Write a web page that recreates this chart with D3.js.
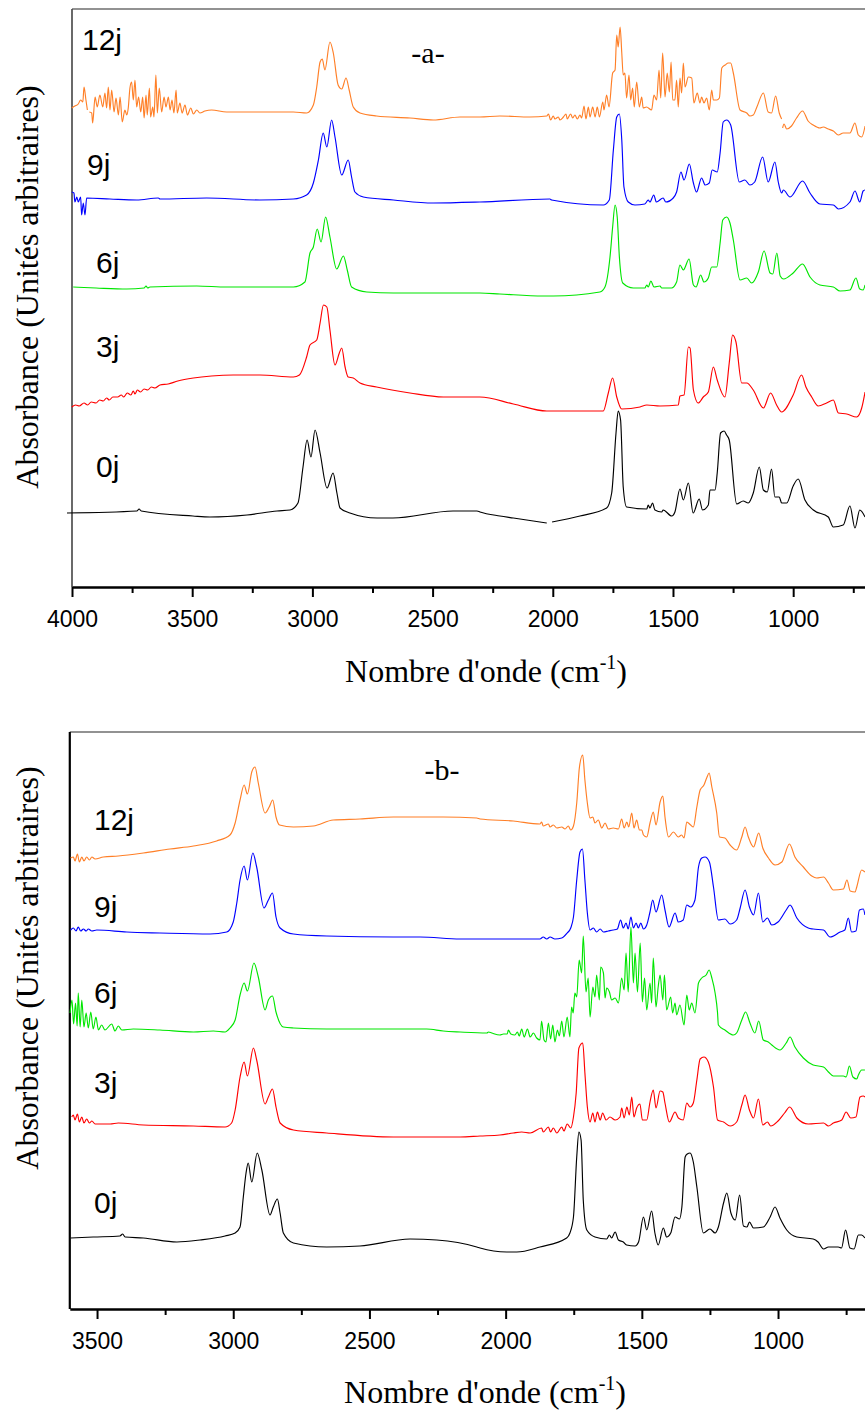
<!DOCTYPE html>
<html><head><meta charset="utf-8">
<script src="https://cdn.jsdelivr.net/npm/d3@7/dist/d3.min.js"></script>
<style>body{margin:0;background:#fff}svg{display:block}</style>
</head><body>
<svg id="chart" width="865" height="1410"></svg>
<script>
// ---------- data ----------
const seriesNames = ["0j","3j","6j","9j","12j"];
const seriesColors = ["#000000","#ff0000","#00e600","#0000ff","#ff7f27"];
const majorTicksA = [4000,3500,3000,2500,2000,1500,1000];
const minorTicksA = [3750,3250,2750,2250,1750,1250,750];
const majorTicksB = [3500,3000,2500,2000,1500,1000];
const minorTicksB = [3250,2750,2250,1750,1250,750];
const panelTags = ["-a-","-b-"];

// panel a : [wavenumber cm-1, absorbance (a.u., stacked)]
const a0j = [[4021,0.74],[3730,0.76],[3721,0.78],[3712,0.76],[3497,0.71],[3426,0.70],[3272,0.72],[3147,0.76],[3093,0.77],[3060,0.84],[3039,1.20],[3022,1.47],[3006,1.30],[2989,1.57],[2968,1.34],[2939,0.99],[2914,1.14],[2898,0.94],[2885,0.79],[2844,0.74],[2731,0.69],[2665,0.69],[2415,0.76],[2315,0.76],[2303,0.75],[2220,0.71],[2164,0.69],[2025,0.64],[2015,null],[2003,0.65],[1887,0.71],[1776,0.79],[1755,0.94],[1737,1.54],[1728,1.76],[1718,1.67],[1707,1.00],[1693,0.80],[1609,0.78],[1603,0.82],[1596,0.79],[1585,0.84],[1575,0.77],[1547,0.75],[1541,0.77],[1505,0.71],[1492,0.75],[1471,0.98],[1457,0.87],[1436,1.04],[1416,0.74],[1391,0.88],[1377,0.77],[1353,0.82],[1346,0.97],[1325,0.97],[1316,1.14],[1302,1.54],[1287,1.56],[1277,1.52],[1266,1.47],[1235,0.83],[1208,0.86],[1187,0.84],[1166,0.94],[1141,1.20],[1124,0.97],[1108,0.95],[1090,1.18],[1076,0.90],[1058,0.90],[1048,0.84],[1027,0.84],[1000,1.01],[979,1.08],[951,0.87],[916,0.77],[854,0.70],[833,0.60],[792,0.62],[764,0.81],[743,0.59],[723,0.77],[701,0.70]];
const a3j = [[4001,1.80],[3985,1.82],[3970,1.81],[3950,1.84],[3935,1.82],[3920,1.85],[3900,1.84],[3885,1.87],[3870,1.86],[3856,1.89],[3845,1.87],[3830,1.90],[3810,1.90],[3795,1.92],[3785,1.90],[3770,1.94],[3755,1.92],[3745,1.96],[3738,1.93],[3728,1.97],[3715,1.95],[3700,1.98],[3685,1.97],[3670,2.00],[3655,1.99],[3634,2.02],[3600,2.03],[3560,2.06],[3495,2.09],[3420,2.11],[3329,2.12],[3218,2.12],[3079,2.10],[3054,2.12],[3024,2.30],[3010,2.42],[2982,2.47],[2968,2.64],[2954,2.82],[2940,2.80],[2927,2.57],[2906,2.22],[2888,2.34],[2878,2.39],[2864,2.20],[2851,2.10],[2830,2.09],[2802,2.04],[2733,2.00],[2594,1.94],[2455,1.90],[2317,1.90],[2303,1.90],[2164,1.83],[2025,1.76],[1790,1.76],[1769,1.94],[1751,2.09],[1734,1.90],[1713,1.78],[1637,1.80],[1609,1.82],[1554,1.81],[1478,1.82],[1471,1.91],[1454,1.92],[1436,2.40],[1429,2.39],[1415,1.97],[1395,1.84],[1374,1.90],[1353,1.95],[1332,2.20],[1316,2.07],[1284,1.90],[1266,2.24],[1252,2.52],[1238,2.45],[1214,2.04],[1193,2.04],[1166,1.97],[1124,1.79],[1094,1.94],[1069,1.82],[1048,1.75],[1000,1.92],[965,2.12],[947,2.00],[923,1.90],[896,1.81],[861,1.84],[833,1.87],[812,1.74],[777,1.73],[736,1.70],[715,1.79],[701,1.95]];
const a6j = [[3995,3.00],[3900,2.99],[3772,2.98],[3700,2.99],[3692,3.01],[3685,2.99],[3676,3.00],[3481,3.01],[3357,3.00],[3079,3.00],[3031,3.05],[3010,3.34],[2996,3.40],[2980,3.58],[2964,3.45],[2945,3.70],[2927,3.50],[2899,3.18],[2871,3.31],[2855,3.17],[2837,3.00],[2774,2.95],[2663,2.94],[2386,2.94],[2303,2.94],[2220,2.93],[2040,2.91],[1998,2.91],[1804,2.95],[1783,3.00],[1762,3.30],[1751,3.60],[1741,3.82],[1732,3.70],[1723,3.30],[1709,3.04],[1665,2.99],[1617,2.99],[1609,3.02],[1603,3.00],[1592,3.06],[1579,3.00],[1554,3.01],[1547,2.99],[1506,2.99],[1485,3.05],[1471,3.22],[1457,3.17],[1433,3.28],[1415,3.02],[1404,3.00],[1385,3.12],[1371,3.05],[1353,3.09],[1339,3.20],[1318,3.20],[1304,3.44],[1293,3.67],[1277,3.70],[1263,3.64],[1249,3.47],[1221,3.07],[1193,3.09],[1173,3.04],[1145,3.15],[1121,3.36],[1096,3.14],[1085,3.13],[1068,3.34],[1054,3.11],[1040,3.08],[1000,3.14],[961,3.23],[930,3.10],[889,3.02],[833,3.00],[805,2.96],[764,2.97],[739,3.09],[723,2.98],[709,2.97],[701,3.02]];
const a9j = [[4001,3.95],[3992,3.94],[3988,3.85],[3980,3.90],[3974,3.85],[3964,3.90],[3960,3.72],[3953,3.84],[3946,3.72],[3939,3.89],[3842,3.88],[3731,3.87],[3641,3.89],[3634,3.88],[3440,3.89],[3218,3.87],[3079,3.88],[3024,3.92],[2996,4.04],[2975,4.27],[2955,4.54],[2940,4.40],[2920,4.67],[2906,4.50],[2878,4.12],[2851,4.27],[2837,4.10],[2823,3.95],[2788,3.90],[2663,3.87],[2497,3.84],[2303,3.85],[2012,3.88],[2005,3.87],[1790,3.82],[1765,3.87],[1748,4.37],[1734,4.70],[1723,4.73],[1713,4.47],[1704,4.00],[1686,3.85],[1658,3.82],[1617,3.83],[1603,3.87],[1596,3.85],[1580,3.92],[1569,3.85],[1541,3.89],[1530,3.85],[1499,3.89],[1485,3.95],[1467,4.15],[1454,4.07],[1432,4.23],[1416,4.05],[1402,3.95],[1381,4.09],[1366,4.02],[1349,4.04],[1337,4.17],[1316,4.15],[1304,4.34],[1291,4.65],[1277,4.67],[1260,4.62],[1224,4.05],[1201,4.07],[1180,4.02],[1160,4.05],[1127,4.30],[1104,4.05],[1076,4.25],[1062,4.05],[1048,3.94],[1041,3.97],[1013,3.90],[961,4.06],[930,3.94],[889,3.83],[833,3.82],[812,3.78],[764,3.85],[743,3.96],[723,3.85],[709,3.96],[701,3.97]];
const a12j = [[4001,4.79],[3988,4.81],[3974,4.83],[3964,4.87],[3955,4.85],[3950,5.00],[3942,4.87],[3936,4.77],[3932,null],[3928,4.75],[3918,4.74],[3914,4.64],[3904,4.90],[3895,4.80],[3884,4.92],[3872,4.80],[3863,4.94],[3856,4.79],[3849,5.00],[3842,4.77],[3835,4.97],[3825,4.75],[3817,4.89],[3807,4.72],[3800,4.90],[3791,4.65],[3780,4.77],[3772,4.72],[3766,4.79],[3759,4.99],[3752,5.05],[3745,4.87],[3738,5.07],[3731,4.80],[3723,4.90],[3714,4.75],[3706,4.90],[3700,4.69],[3692,4.92],[3687,4.72],[3678,4.99],[3673,4.70],[3664,4.80],[3659,4.70],[3651,5.12],[3645,4.74],[3637,4.99],[3627,4.75],[3617,4.90],[3609,4.80],[3599,4.90],[3592,4.77],[3584,4.87],[3576,4.74],[3567,4.97],[3562,4.74],[3551,4.84],[3542,4.74],[3530,4.82],[3520,4.72],[3506,4.79],[3495,4.73],[3481,4.77],[3468,4.74],[3447,4.76],[3419,4.77],[3357,4.75],[3218,4.75],[3079,4.75],[3024,4.74],[2996,4.82],[2982,5.00],[2968,5.25],[2959,5.28],[2948,5.17],[2927,5.45],[2913,5.34],[2893,5.02],[2878,4.98],[2860,5.09],[2847,4.97],[2830,4.80],[2802,4.74],[2733,4.71],[2594,4.69],[2497,4.67],[2386,4.70],[2303,4.70],[2220,4.71],[2095,4.70],[2025,4.71],[2018,4.73],[2009,4.67],[1998,4.71],[1991,4.68],[1977,4.70],[1970,4.67],[1956,4.70],[1945,4.73],[1940,4.68],[1926,4.73],[1917,4.69],[1908,4.72],[1898,4.68],[1887,4.72],[1880,4.69],[1870,4.81],[1862,4.68],[1852,4.80],[1845,4.70],[1834,4.80],[1824,4.70],[1815,4.80],[1806,4.70],[1792,4.85],[1787,4.77],[1776,4.92],[1766,4.80],[1751,5.14],[1741,5.17],[1734,5.52],[1728,5.40],[1720,5.60],[1713,5.34],[1707,5.12],[1700,5.14],[1693,4.89],[1683,5.12],[1676,4.87],[1668,4.99],[1661,4.80],[1651,5.05],[1640,4.80],[1630,4.90],[1624,4.79],[1610,4.80],[1589,4.77],[1579,4.92],[1568,4.87],[1558,5.17],[1551,4.89],[1543,5.34],[1533,4.90],[1524,5.14],[1515,4.95],[1508,5.25],[1501,4.87],[1492,4.87],[1485,5.07],[1478,4.80],[1471,5.09],[1464,4.94],[1457,5.24],[1450,5.00],[1436,5.10],[1422,5.09],[1413,4.84],[1399,4.94],[1388,4.84],[1381,4.90],[1371,4.84],[1360,4.89],[1349,4.77],[1339,4.97],[1332,4.87],[1318,4.87],[1307,4.89],[1297,5.19],[1283,5.22],[1270,5.24],[1260,5.24],[1249,5.14],[1221,4.77],[1193,4.74],[1180,4.71],[1166,4.72],[1151,4.80],[1124,4.94],[1104,4.75],[1090,4.74],[1073,4.91],[1058,4.74],[1048,4.68],[1046,null],[1044,4.59],[1038,4.63],[1027,4.58],[1007,4.61],[986,4.69],[961,4.76],[938,4.66],[917,4.62],[889,4.59],[875,4.60],[854,4.58],[833,4.56],[812,4.52],[792,4.54],[764,4.54],[743,4.64],[729,4.52],[715,4.50],[701,4.61]];

// panel b
const b0j = [[3597,0.71],[3514,0.72],[3416,0.73],[3406,0.75],[3397,0.72],[3330,0.71],[3207,0.67],[3122,0.69],[3030,0.73],[2993,0.76],[2975,0.82],[2963,1.12],[2953,1.36],[2945,1.46],[2932,1.27],[2912,1.56],[2895,1.39],[2865,0.94],[2853,1.02],[2838,1.10],[2828,0.96],[2816,0.76],[2779,0.66],[2657,0.62],[2535,0.63],[2351,0.70],[2253,0.69],[2106,0.62],[2094,0.61],[1996,0.57],[1959,0.57],[1874,0.62],[1776,0.71],[1764,0.76],[1751,0.92],[1739,1.52],[1731,1.77],[1723,1.69],[1715,1.09],[1702,0.79],[1672,0.72],[1629,0.70],[1619,0.74],[1611,0.71],[1598,0.77],[1586,0.69],[1568,0.67],[1556,0.64],[1525,0.63],[1512,0.67],[1494,0.92],[1482,0.79],[1464,0.98],[1452,0.76],[1440,0.64],[1421,0.81],[1409,0.72],[1394,0.76],[1378,0.92],[1362,0.90],[1353,1.02],[1341,1.52],[1333,1.55],[1323,1.56],[1311,1.47],[1298,1.22],[1274,0.76],[1250,0.80],[1231,0.76],[1219,0.82],[1200,1.06],[1188,1.16],[1173,0.96],[1157,0.89],[1141,1.14],[1127,0.83],[1114,0.82],[1105,0.87],[1090,0.81],[1054,0.82],[1029,0.92],[1011,1.02],[993,0.91],[968,0.79],[931,0.72],[871,0.70],[853,0.67],[833,0.60],[815,0.62],[779,0.62],[767,0.61],[752,0.79],[736,0.61],[721,0.60],[705,0.74],[693,0.74],[681,0.71]];
const b3j = [[3593,1.92],[3587,1.94],[3581,1.89],[3572,1.95],[3565,1.87],[3556,1.92],[3548,1.86],[3538,1.90],[3528,1.86],[3519,1.88],[3507,1.85],[3452,1.85],[3422,1.86],[3330,1.84],[3146,1.83],[3030,1.82],[3006,1.86],[2993,1.99],[2975,2.32],[2960,2.47],[2948,2.33],[2926,2.61],[2914,2.49],[2883,2.05],[2871,2.12],[2856,2.20],[2843,2.02],[2828,1.86],[2779,1.79],[2657,1.76],[2412,1.72],[2167,1.72],[2094,1.73],[2021,1.74],[1972,1.76],[1941,1.77],[1910,1.76],[1868,1.81],[1862,1.77],[1843,1.82],[1835,1.77],[1825,1.81],[1812,1.76],[1794,1.82],[1786,1.78],[1774,1.85],[1761,1.81],[1751,1.92],[1741,2.16],[1731,2.61],[1717,2.66],[1709,2.36],[1700,2.02],[1690,1.87],[1680,1.96],[1672,1.87],[1663,1.97],[1653,1.89],[1644,1.96],[1631,1.89],[1617,1.92],[1598,1.89],[1580,1.92],[1574,2.01],[1565,1.91],[1555,2.02],[1546,1.94],[1537,2.12],[1529,1.92],[1519,2.01],[1507,2.05],[1498,1.89],[1482,1.89],[1470,2.07],[1458,2.19],[1448,2.01],[1433,2.18],[1423,2.17],[1415,2.06],[1399,1.87],[1378,1.97],[1366,1.91],[1348,1.89],[1335,2.06],[1323,2.02],[1311,2.06],[1298,2.29],[1286,2.50],[1272,2.52],[1256,2.47],[1237,2.22],[1222,1.89],[1200,1.87],[1176,1.83],[1152,1.87],[1133,2.04],[1121,2.14],[1105,1.99],[1090,1.91],[1072,2.10],[1056,1.84],[1039,1.87],[1027,1.83],[1000,1.88],[976,1.96],[957,2.02],[931,1.91],[889,1.85],[833,1.86],[815,1.83],[797,1.86],[766,1.89],[750,1.97],[733,1.91],[714,1.92],[699,2.12],[687,2.13],[681,2.12]];
const b6j = [[3599,2.96],[3592,3.09],[3586,2.85],[3579,3.06],[3573,2.83],[3569,3.16],[3562,2.82],[3556,3.09],[3548,2.82],[3540,2.96],[3532,2.81],[3523,2.97],[3514,2.80],[3504,2.92],[3495,2.79],[3483,2.84],[3471,2.79],[3446,2.85],[3434,2.78],[3422,2.83],[3409,2.79],[3367,2.80],[3269,2.79],[3146,2.77],[3073,2.78],[3030,2.77],[3012,2.81],[2993,2.89],[2975,3.14],[2960,3.26],[2948,3.18],[2924,3.46],[2908,3.32],[2883,2.99],[2871,3.09],[2856,3.13],[2843,2.97],[2816,2.82],[2779,2.81],[2657,2.80],[2412,2.80],[2290,2.80],[2229,2.78],[2167,2.77],[2069,2.76],[2063,2.77],[2051,2.76],[2021,2.74],[2008,2.75],[1994,2.75],[1990,2.79],[1981,2.75],[1966,2.74],[1957,2.77],[1950,2.73],[1941,2.80],[1932,2.72],[1920,2.80],[1910,2.72],[1898,2.76],[1886,2.71],[1874,2.69],[1868,2.88],[1859,2.69],[1852,2.67],[1843,2.86],[1835,2.70],[1827,2.84],[1819,2.67],[1810,2.79],[1803,2.73],[1794,2.88],[1786,2.72],[1774,2.92],[1764,2.72],[1758,3.02],[1752,2.96],[1746,3.16],[1739,3.12],[1730,3.49],[1721,3.36],[1715,3.73],[1705,3.17],[1697,3.31],[1690,2.92],[1680,3.22],[1672,3.12],[1666,3.34],[1656,3.09],[1651,3.42],[1641,3.36],[1635,3.11],[1629,3.21],[1619,3.17],[1611,3.09],[1598,3.11],[1586,3.06],[1574,3.31],[1565,3.19],[1558,3.56],[1550,3.17],[1540,3.82],[1531,3.26],[1525,3.56],[1516,3.17],[1506,3.66],[1498,3.07],[1490,3.31],[1482,2.99],[1470,3.26],[1464,3.06],[1458,3.51],[1448,3.02],[1440,3.22],[1433,3.34],[1423,3.09],[1417,3.34],[1409,2.99],[1394,3.12],[1387,2.96],[1378,3.06],[1372,2.94],[1360,3.04],[1345,2.84],[1335,3.14],[1326,2.99],[1317,3.06],[1305,2.96],[1292,3.26],[1280,3.31],[1264,3.34],[1253,3.39],[1243,3.31],[1231,3.16],[1222,2.96],[1219,2.84],[1195,2.79],[1164,2.74],[1152,2.76],[1133,2.89],[1119,2.97],[1103,2.86],[1085,2.76],[1071,2.88],[1054,2.69],[1036,2.67],[1023,2.64],[993,2.59],[970,2.66],[956,2.72],[938,2.62],[907,2.51],[871,2.44],[833,2.42],[815,2.37],[797,2.33],[760,2.33],[750,2.32],[738,2.43],[725,2.32],[711,2.30],[705,2.34],[693,2.39],[681,2.39]];
const b9j = [[3597,3.79],[3587,3.81],[3577,3.78],[3569,3.82],[3560,3.78],[3550,3.80],[3540,3.78],[3532,3.80],[3519,3.78],[3501,3.79],[3391,3.77],[3269,3.76],[3085,3.75],[3024,3.77],[3000,3.87],[2987,4.06],[2975,4.29],[2960,4.43],[2948,4.29],[2928,4.56],[2914,4.42],[2887,4.01],[2871,4.09],[2856,4.16],[2843,3.92],[2828,3.81],[2779,3.75],[2657,3.73],[2412,3.72],[2376,3.72],[2314,3.72],[2167,3.70],[2094,3.70],[1874,3.70],[1862,3.72],[1849,3.70],[1837,3.72],[1819,3.70],[1794,3.71],[1774,3.76],[1761,3.81],[1751,3.92],[1739,4.29],[1727,4.57],[1718,4.60],[1709,4.29],[1700,3.96],[1690,3.79],[1678,3.81],[1666,3.77],[1653,3.80],[1641,3.77],[1623,3.78],[1605,3.79],[1590,3.80],[1578,3.89],[1568,3.81],[1558,3.86],[1550,3.80],[1540,3.92],[1531,3.81],[1521,3.86],[1513,3.81],[1504,3.86],[1494,3.80],[1482,3.84],[1470,3.97],[1460,4.09],[1448,3.97],[1427,4.14],[1415,3.99],[1400,3.82],[1378,3.96],[1366,3.87],[1348,3.89],[1335,4.04],[1321,4.02],[1305,4.09],[1292,4.42],[1280,4.51],[1268,4.52],[1252,4.47],[1237,4.22],[1219,3.89],[1195,3.90],[1176,3.85],[1152,3.89],[1139,4.01],[1121,4.19],[1105,4.02],[1090,3.94],[1072,4.16],[1056,3.87],[1039,3.91],[1023,3.84],[1000,3.87],[970,3.99],[956,4.04],[931,3.91],[889,3.81],[871,3.80],[833,3.79],[809,3.72],[772,3.77],[755,3.79],[742,3.91],[730,3.77],[714,3.78],[701,3.99],[687,4.00],[681,3.94]];
const b12j = [[3597,4.51],[3587,4.52],[3581,4.48],[3572,4.55],[3565,4.47],[3556,4.52],[3548,4.48],[3538,4.52],[3528,4.49],[3519,4.52],[3507,4.50],[3477,4.52],[3422,4.53],[3330,4.56],[3232,4.60],[3146,4.63],[3061,4.68],[3012,4.74],[2993,4.86],[2975,5.09],[2960,5.24],[2948,5.15],[2932,5.37],[2920,5.42],[2908,5.26],[2883,4.96],[2868,5.02],[2855,5.09],[2843,4.92],[2830,4.84],[2779,4.82],[2706,4.83],[2633,4.89],[2535,4.90],[2412,4.92],[2229,4.92],[2106,4.91],[2094,4.90],[1972,4.88],[1874,4.85],[1868,4.87],[1862,4.83],[1843,4.85],[1837,4.82],[1825,4.84],[1812,4.81],[1794,4.82],[1782,4.80],[1770,4.83],[1761,4.79],[1751,4.83],[1739,5.06],[1729,5.42],[1717,5.54],[1709,5.29],[1700,5.06],[1690,4.91],[1680,4.92],[1672,4.86],[1660,4.89],[1647,4.81],[1635,4.86],[1623,4.80],[1605,4.81],[1586,4.80],[1574,4.90],[1565,4.81],[1555,4.87],[1548,4.82],[1537,4.96],[1529,4.81],[1519,4.89],[1509,4.79],[1500,4.79],[1494,4.74],[1482,4.72],[1470,4.86],[1458,4.97],[1448,4.84],[1433,5.07],[1423,5.13],[1415,4.92],[1402,4.72],[1384,4.77],[1366,4.72],[1354,4.74],[1345,4.71],[1335,4.87],[1321,4.84],[1311,4.82],[1298,5.02],[1286,5.19],[1272,5.24],[1262,5.31],[1253,5.36],[1243,5.22],[1225,4.96],[1215,4.72],[1195,4.71],[1176,4.64],[1152,4.59],[1133,4.72],[1121,4.82],[1109,4.72],[1090,4.62],[1071,4.76],[1056,4.61],[1035,4.51],[1011,4.44],[986,4.47],[958,4.65],[938,4.52],[907,4.42],[876,4.33],[858,4.31],[833,4.32],[815,4.26],[797,4.19],[760,4.20],[747,4.29],[735,4.18],[717,4.17],[711,4.22],[693,4.39],[681,4.37]];

// ---------- drawing ----------
const svg = d3.select("#chart");
svg.append("rect").attr("width",865).attr("height",1410).attr("fill","#fff");

function drawPanel(cfg){
  const x = d3.scaleLinear().domain(cfg.xDomain).range([cfg.left, cfg.right]);
  const y = d3.scaleLinear().domain(cfg.yDomain).range([cfg.bottom, cfg.top]);
  const g = svg.append("g");

  // frame: top and left
  g.append("line").attr("x1",cfg.left).attr("x2",865).attr("y1",cfg.top).attr("y2",cfg.top)
    .attr("stroke","#6e6e6e").attr("stroke-width",1.6);
  g.append("line").attr("x1",cfg.left).attr("x2",cfg.left).attr("y1",cfg.top).attr("y2",cfg.bottom)
    .attr("stroke",cfg.leftColor).attr("stroke-width",cfg.leftWidth);

  // series
  const line = d3.line().defined(d => d[1] !== null).curve(d3.curveMonotoneX)
    .x(d => x(d[0])).y(d => y(d[1]));
  cfg.series.forEach((s,i) => {
    g.append("path").datum(s).attr("d", line).attr("fill","none")
      .attr("stroke", seriesColors[i]).attr("stroke-width",1.15).attr("stroke-linejoin","round");
  });

  // minor ticks
  const minor = g.append("g").attr("transform",`translate(0,${cfg.bottom})`)
    .call(d3.axisBottom(x).tickValues(cfg.minor).tickSize(6).tickFormat(""));
  minor.select(".domain").remove();
  minor.selectAll(".tick line").attr("stroke","#000").attr("stroke-width",2);

  // major axis
  const ax = g.append("g").attr("transform",`translate(0,${cfg.bottom})`)
    .call(d3.axisBottom(x).tickValues(cfg.major).tickSize(10).tickSizeOuter(0).tickPadding(14).tickFormat(d3.format("d")));
  ax.select(".domain").attr("stroke","#000").attr("stroke-width",2.6);
  ax.selectAll(".tick line").attr("stroke","#000").attr("stroke-width",2);
  ax.selectAll(".tick text").attr("fill","#000")
    .style("font-family","'Liberation Sans', Arial, sans-serif").style("font-size","23px");

  // series labels
  cfg.labelPos.forEach((p,i) => {
    g.append("text").attr("x",p[0]).attr("y",p[1]).text(seriesNames[i])
      .style("font-family","'Liberation Sans', Arial, sans-serif").style("font-size","30px").attr("fill","#000");
  });

  // tag
  g.append("text").attr("x",cfg.tag[0]).attr("y",cfg.tag[1]).attr("text-anchor","middle").text(cfg.tagText)
    .style("font-family","'Liberation Serif','Times New Roman',serif").style("font-size","30px");

  // x title
  const xt = g.append("text").attr("x",cfg.xTitle[0]).attr("y",cfg.xTitle[1]).attr("text-anchor","middle")
    .style("font-family","'Liberation Serif','Times New Roman',serif").style("font-size","32px");
  xt.append("tspan").text("Nombre d'onde (cm");
  xt.append("tspan").text("-1").style("font-size","20px").attr("dy",-13);
  xt.append("tspan").text(")").attr("dy",13);

  // y title
  g.append("text").attr("transform",`translate(${cfg.yTitle[0]},${cfg.yTitle[1]}) rotate(-90)`)
    .attr("text-anchor","middle").text("Absorbance (Unités arbitraires)")
    .style("font-family","'Liberation Serif','Times New Roman',serif").style("font-size","32px");
}

drawPanel({
  xDomain:[4000,700], yDomain:[0,5.78], left:72, right:865.3, top:9, bottom:587,
  leftColor:"#444", leftWidth:1.6,
  series:[a0j,a3j,a6j,a9j,a12j], major:majorTicksA, minor:minorTicksA,
  labelPos:[[96,477],[96,357],[96,273],[87,175],[82,50]],
  tag:[428,63], tagText:panelTags[0], xTitle:[486,682], yTitle:[38,287]
});
drawPanel({
  xDomain:[3600,680], yDomain:[0,5.77], left:69.8, right:865.2, top:732, bottom:1309,
  leftColor:"#000", leftWidth:2.2,
  series:[b0j,b3j,b6j,b9j,b12j], major:majorTicksB, minor:minorTicksB,
  labelPos:[[94,1213],[94,1093],[94,1003],[94,917],[94,830]],
  tag:[442,780], tagText:panelTags[1], xTitle:[485,1403], yTitle:[38,968]
});
</script>
</body></html>
